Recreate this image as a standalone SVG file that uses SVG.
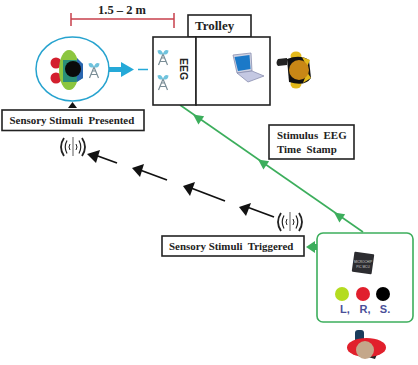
<svg xmlns="http://www.w3.org/2000/svg" width="418" height="365" viewBox="0 0 418 365">
<style>
.box{fill:#fff;stroke:#222;stroke-width:1.600}
.lbl{font-family:"Liberation Serif",serif;font-weight:bold;font-size:10.900px;fill:#222}
.tag{font-family:"Liberation Sans",sans-serif;font-weight:bold;font-size:11px;fill:#4a4f98}
.gl{fill:none;stroke:#3cae5c;stroke-width:1.600}
.gf{fill:#3cae5c}
.bk{stroke:#111;stroke-width:1.800;fill:none}
.wave{fill:none;stroke:#222}
.mast{fill:none;stroke:#7a8d96;stroke-width:1.200}
</style>
<defs>
<g id="antenna">
<path class="mast" d="M-4.500 8L0 -3L4.500 8M-3 4.500H3M-1.500 1H1.500"/>
<path d="M-5.500 -6.500Q-1.500 -8.500 0 -3Q-5 -1 -5.500 -6.500ZM5.500 -6.500Q1.500 -8.500 0 -3Q5 -1 5.500 -6.500Z" fill="#6fc3dd"/>
</g>
<g id="signal">
<path d="M0 -10V9" stroke="#777" stroke-width="1.200" fill="none"/>
<path class="wave" stroke-width="1" d="M-3 -3Q-5 0 -3 3M3 -3Q5 0 3 3"/>
<path class="wave" stroke-width="1.200" d="M-6 -6.500Q-9.500 0 -6 6.500M6 -6.500Q9.500 0 6 6.500"/>
<path class="wave" stroke-width="1.800" d="M-9 -9Q-15 0 -9 9M9 -9Q15 0 9 9"/>
</g>
<path id="green-head" class="gf" d="M-6 0L4 -5L4 5Z"/>
</defs>

<g id="connectors">
<path d="M71 19H174M71 13V26M174 13V28" stroke="#c8404c" stroke-width="1.500" fill="none"/>
<path d="M109 69.500H122" stroke="#25a9d8" stroke-width="5" fill="none"/>
<path d="M121 62L134 69.500L121 77Z" fill="#25a9d8"/>
<path d="M138 69.500H148" stroke="#25a9d8" stroke-width="1.500" fill="none"/>
<path d="M68 108L72.500 102L77 108Z" fill="#111"/>
<path class="gl" d="M180 105L363 232"/>
<use href="#green-head" transform="translate(198 118) rotate(35)"/>
<use href="#green-head" transform="translate(263 163) rotate(35)"/>
<use href="#green-head" transform="translate(339 216) rotate(35)"/>
<path class="gf" d="M306 247L315 241V253Z"/>
<rect class="gf" x="314" y="244" width="4" height="6"/>
<path class="bk" d="M117 163L95 155"/>
<path d="M87 154L100 150L96 163Z" fill="#111"/>
<path class="bk" d="M167 180L140 170"/>
<path d="M132 168L144 164L140 177Z" fill="#111"/>
<path class="bk" d="M225 201L191 188"/>
<path d="M183 186L195 182L190 196Z" fill="#111"/>
<path class="bk" d="M274 217L247 207"/>
<path d="M239 207L251 203L246 216Z" fill="#111"/>
</g>

<g id="subject">
<ellipse cx="72.500" cy="69" rx="36.500" ry="32" fill="#fff" stroke="#27a3cf" stroke-width="1.500"/>
<ellipse cx="56" cy="63" rx="5.500" ry="5.500" fill="#d3202e"/>
<ellipse cx="56" cy="78" rx="5.500" ry="5.500" fill="#d3202e"/>
<ellipse cx="69" cy="70" rx="10" ry="20" fill="#8cc63f"/>
<path d="M63 60H76L83 64V78L76 82H63Z" fill="#2a8f78"/>
<path d="M77 58L83 64V78L77 82Z" fill="#2a66b0"/>
<circle cx="73" cy="69" r="8" fill="#0a0a0a"/>
<use href="#antenna" x="94" y="70"/>
</g>

<g id="sensory-presented">
<rect class="box" x="2" y="110" width="142" height="20.500"/>
<text class="lbl" x="9.500" y="124" xml:space="preserve">Sensory Stimuli  Presented</text>
</g>
<g id="signal-receiver"><use href="#signal" x="73" y="147"/></g>

<g id="distance"><text class="lbl" x="122" y="14" text-anchor="middle" style="font-size:12.500px">1.5 – 2 m</text></g>

<g id="trolley-tab">
<rect class="box" x="188" y="15" width="63" height="22"/>
<text class="lbl" x="195" y="30" style="font-size:13px">Trolley</text>
</g>
<g id="eeg">
<rect class="box" x="153" y="37" width="43" height="68"/>
<use href="#antenna" x="163" y="57"/>
<use href="#antenna" x="163" y="82"/>
<text x="184" y="69" transform="rotate(90 184 69)" text-anchor="middle" dy="3.800" font-family="Liberation Sans,sans-serif" font-weight="bold" font-size="10.500px" fill="#222">EEG</text>
</g>
<g id="trolley">
<rect class="box" x="196" y="37" width="74" height="68"/>
<path d="M233 55L251 53L252 71L237 73Z" fill="#cfd2e2" stroke="#8a8fb0" stroke-width=".8"/>
<path d="M234.500 57L249.500 55L250.500 69L238 71Z" fill="#1b79c8"/>
<path d="M237 73L252 71L264 76L248 82Z" fill="#c4c8e2" stroke="#8a8fb0" stroke-width=".8"/>
</g>
<g id="operator">
<ellipse cx="296" cy="56" rx="5.500" ry="4.500" fill="#e3b91b"/>
<ellipse cx="296" cy="84" rx="5.500" ry="4.500" fill="#e3b91b"/>
<path d="M287 59Q300 54 309 60L311 78Q305 87 289 82Z" fill="#111"/>
<path d="M302 57L310 60L307 67ZM303 83L311 78L307 72Z" fill="#e3b91b"/>
<path d="M287 58L278 59Q275 63 278 66L287 65Z" fill="#222"/>
<circle cx="299" cy="70" r="10" fill="#c88716"/>
</g>

<g id="time-stamp">
<rect class="box" x="269" y="125" width="85" height="34"/>
<text class="lbl" x="277" y="139" xml:space="preserve">Stimulus  EEG</text>
<text class="lbl" x="277" y="153" xml:space="preserve">Time  Stamp</text>
</g>

<g id="signal-source"><use href="#signal" x="290" y="222"/></g>

<g id="sensory-triggered">
<rect class="box" x="162" y="236" width="142" height="20"/>
<text class="lbl" x="169" y="250" xml:space="preserve">Sensory Stimuli  Triggered</text>
</g>

<g id="controller">
<rect x="317" y="233" width="96" height="89" rx="6" fill="#fff" stroke="#3cae5c" stroke-width="1.600"/>
<rect x="353" y="253" width="20" height="20" rx="1" transform="rotate(8 363 263)" fill="#2c2c30"/>
<text x="363" y="263" text-anchor="middle" font-family="Liberation Sans,sans-serif" font-size="3.200px" fill="#ccc">MICROCHIP</text>
<text x="363" y="268" text-anchor="middle" font-family="Liberation Sans,sans-serif" font-size="3.200px" fill="#ccc">PIC MCU</text>
<circle cx="342" cy="294" r="7" fill="#b4dc20"/>
<circle cx="363" cy="294" r="7" fill="#e11f2d"/>
<circle cx="383" cy="294" r="7" fill="#000"/>
<text class="tag" x="345" y="313" text-anchor="middle">L,</text>
<text class="tag" x="365" y="313" text-anchor="middle">R,</text>
<text class="tag" x="385" y="313" text-anchor="middle">S.</text>
</g>

<g id="participant">
<rect x="355" y="330" width="9" height="14" rx="3" fill="#1a3c5c"/>
<path d="M378 352L375 359L368 357Z" fill="#222"/>
<ellipse cx="366.500" cy="347.500" rx="19.500" ry="9.500" fill="#e1202c"/>
<circle cx="365" cy="350" r="9" fill="#c4a78a"/>
</g>
</svg>
